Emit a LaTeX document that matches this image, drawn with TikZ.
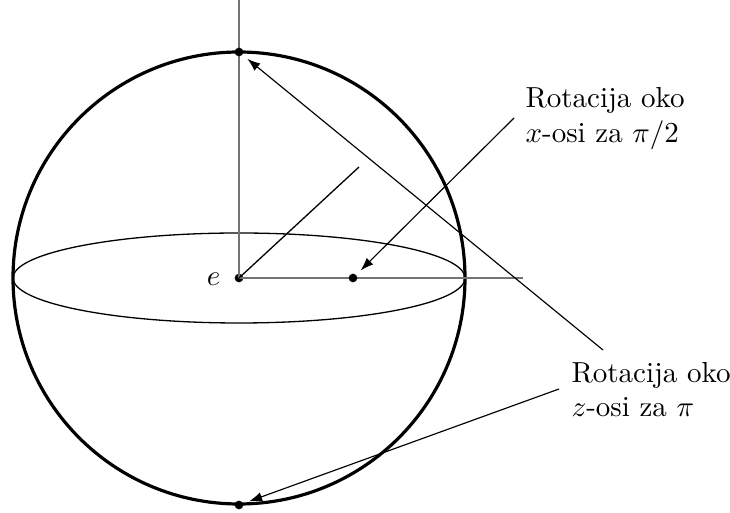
\documentclass[tikz,border=0pt]{standalone}
\usetikzlibrary{arrows.meta}
\begin{document}
\begin{tikzpicture}[x=0.345pt,y=-0.345pt,
  dot/.style={circle,fill=black,inner sep=0pt,minimum size=3pt},
  axis/.style={draw=black!55,line width=0.45pt},
  arr/.style={-{Latex[length=4.5pt,width=3.2pt]},line width=0.4pt,shorten >=2pt},
  lbl/.style={anchor=base west,align=left,inner sep=0pt}]
\useasboundingbox (0,0) rectangle (730,513);
% sphere and equator
\draw[line width=1.1pt] (239,278) circle[x radius=226,y radius=226];
\draw[line width=0.45pt] (239,278) ellipse[x radius=226,y radius=45];
% axes
\node[dot] (o) at (239,278) {};
\coordinate (ztop) at (239,0);
\coordinate (xend) at (523,278);
\coordinate (yend) at (359,167);
\draw[axis] (o.center) -- (ztop);
\draw[axis] (o.center) -- (xend);
\draw[line width=0.45pt] (o.center) -- (yend);
% points
\node[dot] (top) at (239,52) {};
\node[dot] (bot) at (239,505) {};
\node[dot] (px) at (353,278) {};
\node[inner sep=0pt] (e) at (213.5,279) {$e$};
% labels
\node[lbl] (tx) at (525,142.5) {Rotacija oko\\$x$-osi za $\pi/2$};
\node[lbl] (tz) at (571,417) {Rotacija oko\\$z$-osi za $\pi$};
% arrows
\coordinate (a1) at (514,118);
\coordinate (a2) at (603,350);
\coordinate (a3) at (559,389);
\draw[arr] (a1) -- (px);
\draw[arr] (a2) -- (top);
\draw[arr] (a3) -- (bot);
\end{tikzpicture}
\end{document}
